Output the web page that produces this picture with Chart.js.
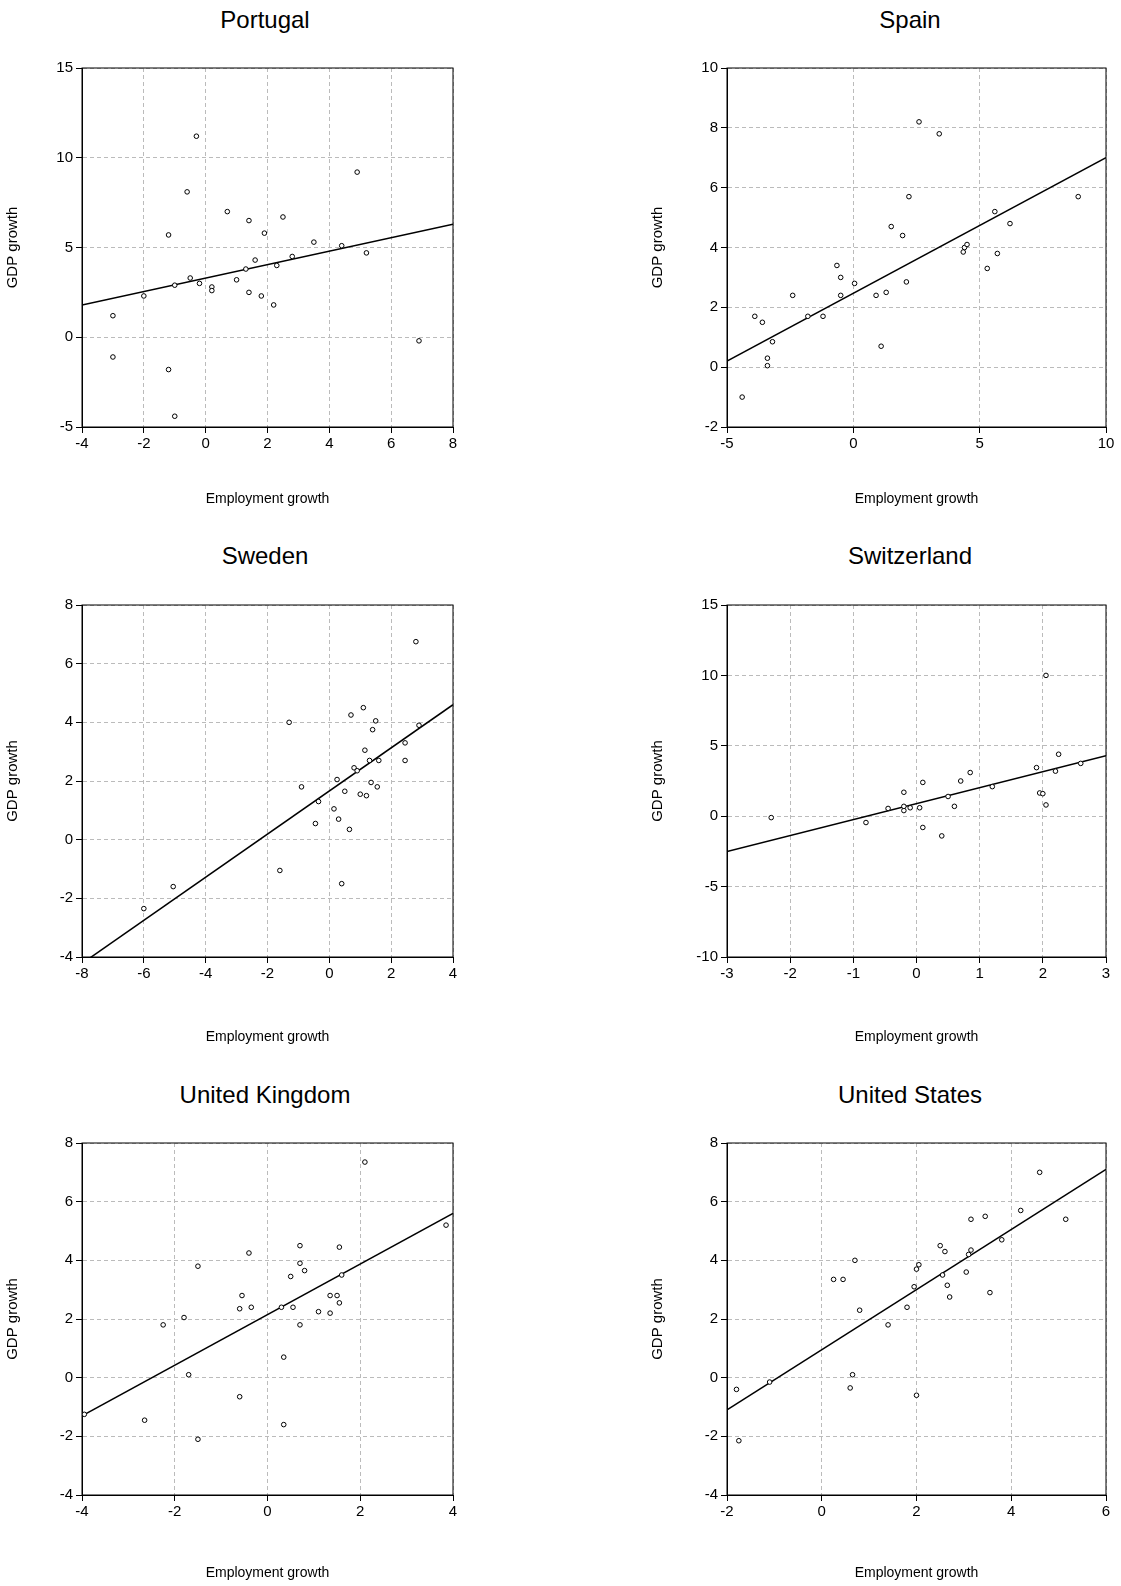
<!DOCTYPE html>
<html><head><meta charset="utf-8">
<script src="https://cdn.jsdelivr.net/npm/chart.js@4.4.0/dist/chart.umd.min.js"></script>
<style>
html,body{margin:0;padding:0;overflow:hidden;height:1586px}
body{background:#fff;width:1121px;position:relative;font-family:"Liberation Sans",Arial,sans-serif}
.c{position:absolute;width:476px;overflow:hidden}
.c canvas{display:block}
.t{position:absolute;font-size:24px;width:366px;text-align:center;color:#000}
</style></head><body>
<div class="t" style="left:82px;top:6px">Portugal</div>
<div class="t" style="left:727px;top:6px">Spain</div>
<div class="t" style="left:82px;top:542px">Sweden</div>
<div class="t" style="left:727px;top:542px">Switzerland</div>
<div class="t" style="left:82px;top:1081px">United Kingdom</div>
<div class="t" style="left:727px;top:1081px">United States</div>
<div class="c" style="left:0;top:0;height:527px"><canvas id="c0"></canvas></div>
<div class="c" style="left:645px;top:0;height:527px"><canvas id="c1"></canvas></div>
<div class="c" style="left:0;top:536px;height:522px"><canvas id="c2"></canvas></div>
<div class="c" style="left:645px;top:536px;height:522px"><canvas id="c3"></canvas></div>
<div class="c" style="left:0;top:1074px;height:512px"><canvas id="c4"></canvas></div>
<div class="c" style="left:645px;top:1074px;height:512px"><canvas id="c5"></canvas></div>
<script>
const portugalX=[-3,-3,-2,-1.2,-1.2,-1,-1,-0.6,-0.5,-0.3,-0.2,0.2,0.2,0.7,1.0,1.3,1.4,1.4,1.6,1.8,1.9,2.2,2.3,2.5,2.8,3.5,4.4,4.9,5.2,6.9];
const portugalY=[1.2,-1.1,2.3,5.7,-1.8,-4.4,2.9,8.1,3.3,11.2,3.0,2.8,2.6,7.0,3.2,3.8,2.5,6.5,4.3,2.3,5.8,1.8,4.0,6.7,4.5,5.3,5.1,9.2,4.7,-0.2];
const portugalFit=[[-4,1.8],[8,6.3]];
const spainX=[-4.4,-3.9,-3.6,-3.4,-3.4,-3.2,-2.4,-1.8,-1.2,-0.65,-0.5,-0.5,0.05,0.9,1.1,1.3,1.5,1.95,2.1,2.2,2.6,3.4,4.35,4.4,4.5,5.3,5.6,5.7,6.2,8.9];
const spainY=[-1.0,1.7,1.5,0.3,0.05,0.85,2.4,1.7,1.7,3.4,3.0,2.4,2.8,2.4,0.7,2.5,4.7,4.4,2.85,5.7,8.2,7.8,3.85,4.0,4.1,3.3,5.2,3.8,4.8,5.7];
const spainFit=[[-5,0.2],[10,7.0]];
const swedenX=[-6,-5.05,-1.6,-1.3,-0.9,-0.45,-0.35,0.15,0.25,0.3,0.4,0.5,0.65,0.7,0.8,0.9,1.0,1.1,1.15,1.2,1.3,1.35,1.4,1.5,1.55,1.6,2.45,2.45,2.8,2.9];
const swedenY=[-2.35,-1.6,-1.05,4.0,1.8,0.55,1.3,1.05,2.05,0.7,-1.5,1.65,0.35,4.25,2.45,2.35,1.55,4.5,3.05,1.5,2.7,1.95,3.75,4.05,1.8,2.7,3.3,2.7,6.75,3.9];
const swedenFit=[[-8,-4.22],[4,4.6]];
const switzX=[-2.3,-0.8,-0.45,-0.2,-0.2,-0.2,-0.1,0.05,0.1,0.1,0.4,0.5,0.6,0.7,0.85,1.2,1.9,1.95,2.0,2.05,2.05,2.2,2.25,2.6];
const switzY=[-0.1,-0.45,0.55,0.4,0.7,1.7,0.6,0.6,2.4,-0.8,-1.4,1.4,0.7,2.5,3.1,2.1,3.45,1.65,1.6,0.8,10.0,3.2,4.4,3.75];
const switzFit=[[-3,-2.5],[3,4.3]];
const ukX=[-3.95,-2.65,-2.25,-1.8,-1.7,-1.5,-1.5,-0.6,-0.6,-0.55,-0.4,-0.35,0.3,0.35,0.35,0.5,0.55,0.7,0.7,0.7,0.8,1.1,1.35,1.35,1.5,1.55,1.55,1.6,2.1,3.85];
const ukY=[-1.25,-1.45,1.8,2.05,0.1,3.8,-2.1,-0.65,2.35,2.8,4.25,2.4,2.4,0.7,-1.6,3.45,2.4,1.8,4.5,3.9,3.65,2.25,2.8,2.2,2.8,2.55,4.45,3.5,7.35,5.2];
const ukFit=[[-4,-1.3],[4,5.6]];
const usX=[-1.8,-1.75,-1.1,0.25,0.45,0.6,0.65,0.7,0.8,1.4,1.8,1.95,2.0,2.0,2.05,2.5,2.55,2.6,2.65,2.7,3.05,3.1,3.15,3.15,3.45,3.55,3.8,4.2,4.6,5.15];
const usY=[-0.4,-2.15,-0.15,3.35,3.35,-0.35,0.1,4.0,2.3,1.8,2.4,3.1,3.7,-0.6,3.85,4.5,3.5,4.3,3.15,2.75,3.6,4.2,4.35,5.4,5.5,2.9,4.7,5.7,7.0,5.4];
const usFit=[[-2,-1.1],[6,7.1]];
const panels=[
 {x:portugalX,y:portugalY,fit:portugalFit,xr:[-4,8,2],yr:[-5,15,5],pt:68,pr:23,pb:15,xh:85},
 {x:spainX,y:spainY,fit:spainFit,xr:[-5,10,5],yr:[-2,10,2],pt:68,pr:15,pb:15,xh:85},
 {x:swedenX,y:swedenY,fit:swedenFit,xr:[-8,4,2],yr:[-4,8,2],pt:69,pr:23,pb:8,xh:93},
 {x:switzX,y:switzY,fit:switzFit,xr:[-3,3,1],yr:[-10,15,5],pt:69,pr:15,pb:8,xh:93},
 {x:ukX,y:ukY,fit:ukFit,xr:[-4,4,2],yr:[-4,8,2],pt:69,pr:23,pb:0,xh:91},
 {x:usX,y:usY,fit:usFit,xr:[-2,6,2],yr:[-4,8,2],pt:69,pr:15,pb:0,xh:91}];
const box={id:'box',afterDraw(c){const a=c.chartArea,g=c.ctx;g.save();g.strokeStyle='#000';g.lineWidth=1;g.strokeRect(a.left,a.top,a.right-a.left,a.bottom-a.top);g.restore();}};
const font={family:'"Liberation Sans", Arial, sans-serif',size:15};
panels.forEach((p,i)=>{
 new Chart(document.getElementById('c'+i),{type:'scatter',
  data:{datasets:[
   {data:p.x.map((v,k)=>({x:v,y:p.y[k]})),pointRadius:2.3,pointBorderWidth:1,pointBorderColor:'#000',pointBackgroundColor:'#fff'},
   {type:'line',data:p.fit.map(q=>({x:q[0],y:q[1]})),borderColor:'#000',borderWidth:1.5,pointRadius:0,fill:false}]},
  options:{responsive:true,maintainAspectRatio:false,animation:false,
   layout:{padding:{top:p.pt,right:p.pr,left:0,bottom:p.pb}},
   plugins:{legend:{display:false},tooltip:{enabled:false}},
   scales:{
    x:{type:'linear',min:p.xr[0],max:p.xr[1],ticks:{stepSize:p.xr[2],color:'#000',font:font,padding:2},
     grid:{color:'#bbb',tickColor:'#000',tickLength:6},border:{color:'#000',dash:[4,3]},
     title:{display:true,text:'Employment growth',color:'#000',font:{family:font.family,size:14},padding:{top:20}},
     afterFit(s){s.height=p.xh;}},
    y:{type:'linear',min:p.yr[0],max:p.yr[1],ticks:{stepSize:p.yr[2],color:'#000',font:font,padding:3},
     grid:{color:'#bbb',tickColor:'#000',tickLength:6},border:{color:'#000',dash:[4,3]},
     title:{display:true,text:'GDP growth',color:'#000',font:font,padding:{bottom:6}},
     afterFit(s){s.width=82;}}}},
  plugins:[box]});
});
</script></body></html>
